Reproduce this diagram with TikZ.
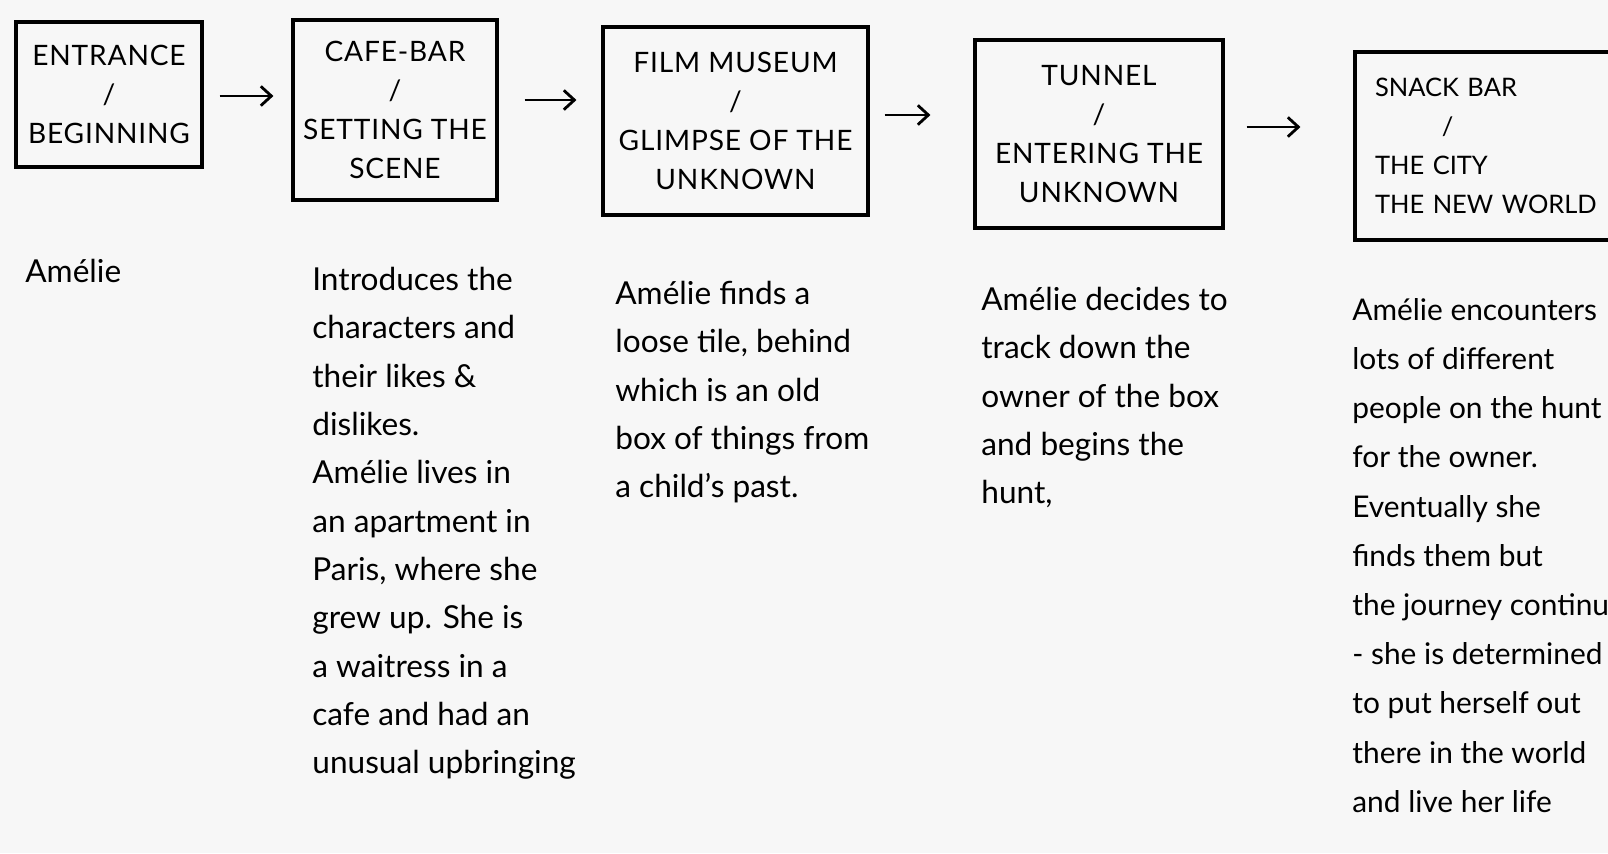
\documentclass[tikz,border=0pt]{standalone}
\usepackage{fontspec}
\setmainfont{Lato}
\newfontfamily\boxfont[LetterSpace=3]{Lato}
\usetikzlibrary{arrows.meta}

\begin{document}
\begin{tikzpicture}
  [x=0.02cm,y=-0.02cm,
   stage/.style={draw=black,line width=1.8pt,align=center,inner sep=0pt,
     font=\boxfont\fontsize{16}{22.2}\selectfont},
   notes/.style={anchor=north west,align=left,inner sep=0pt,
     font=\fontsize{18}{27.5}\selectfont},
   arr/.style={line width=1.6pt,-{Straight Barb[length=6pt,width=11pt,line width=1.6pt]}}]
\fill[black!3] (0,0) rectangle (1608,853);
\useasboundingbox (0,0) rectangle (1608,853);
  \node[stage,minimum width=3.72cm,minimum height=2.9cm] (b1) at (109,94.5) {ENTRANCE\\/\\BEGINNING};
  \node[stage,minimum width=4.08cm,minimum height=3.6cm] (b2) at (395,110) {CAFE-BAR\\/\\SETTING THE\\SCENE};
  \node[stage,minimum width=5.3cm,minimum height=3.76cm] (b3) at (735.5,121) {FILM MUSEUM\\/\\GLIMPSE OF THE\\UNKNOWN};
  \node[stage,minimum width=4.96cm,minimum height=3.76cm] (b4) at (1099,134) {TUNNEL\\/\\ENTERING THE\\UNKNOWN};
  \node[stage,align=left,text width=5.1cm,inner xsep=0.4cm,minimum height=3.76cm,
    font=\fontsize{14.5}{22.2}\selectfont] (b5) at (1502.5,146)
    {SNACK BAR\\\hspace*{38pt}/\\THE CITY\\THE NEW WORLD};

  \foreach \from/\to/\y/\gapa/\gapb in {b1/b2/96/0.32cm/0.36cm, b2/b3/100/0.52cm/0.5cm,
      b3/b4/115/0.3cm/0.86cm, b4/b5/127/0.44cm/1.06cm}
    \draw[arr,shorten <=\gapa,shorten >=\gapb] (\from.east |- 0,\y) -- (\to.west |- 0,\y);

  \node[notes] (t1) at (25,259) {Amélie};
  \node[notes] (t2) at (312,267) {Introduces the\\characters and\\their likes \&\\dislikes.\\Amélie lives in\\an apartment in\\Paris, where she\\grew up. She is\\a waitress in a\\cafe and had an\\unusual upbringing};
  \node[notes] (t3) at (615,281) {Amélie finds a\\loose tile, behind\\which is an old\\box of things from\\a child's past.};
  \node[notes] (t4) at (981,287) {Amélie decides to\\track down the\\owner of the box\\and begins the\\hunt,};
  \node[notes,font=\fontsize{17}{28}\selectfont] (t5) at (1352,298) {Amélie encounters\\lots of different\\people on the hunt\\for the owner.\\Eventually she\\finds them but\\the journey continues\\- she is determined\\to put herself out\\there in the world\\and live her life};
\end{tikzpicture}
\end{document}
